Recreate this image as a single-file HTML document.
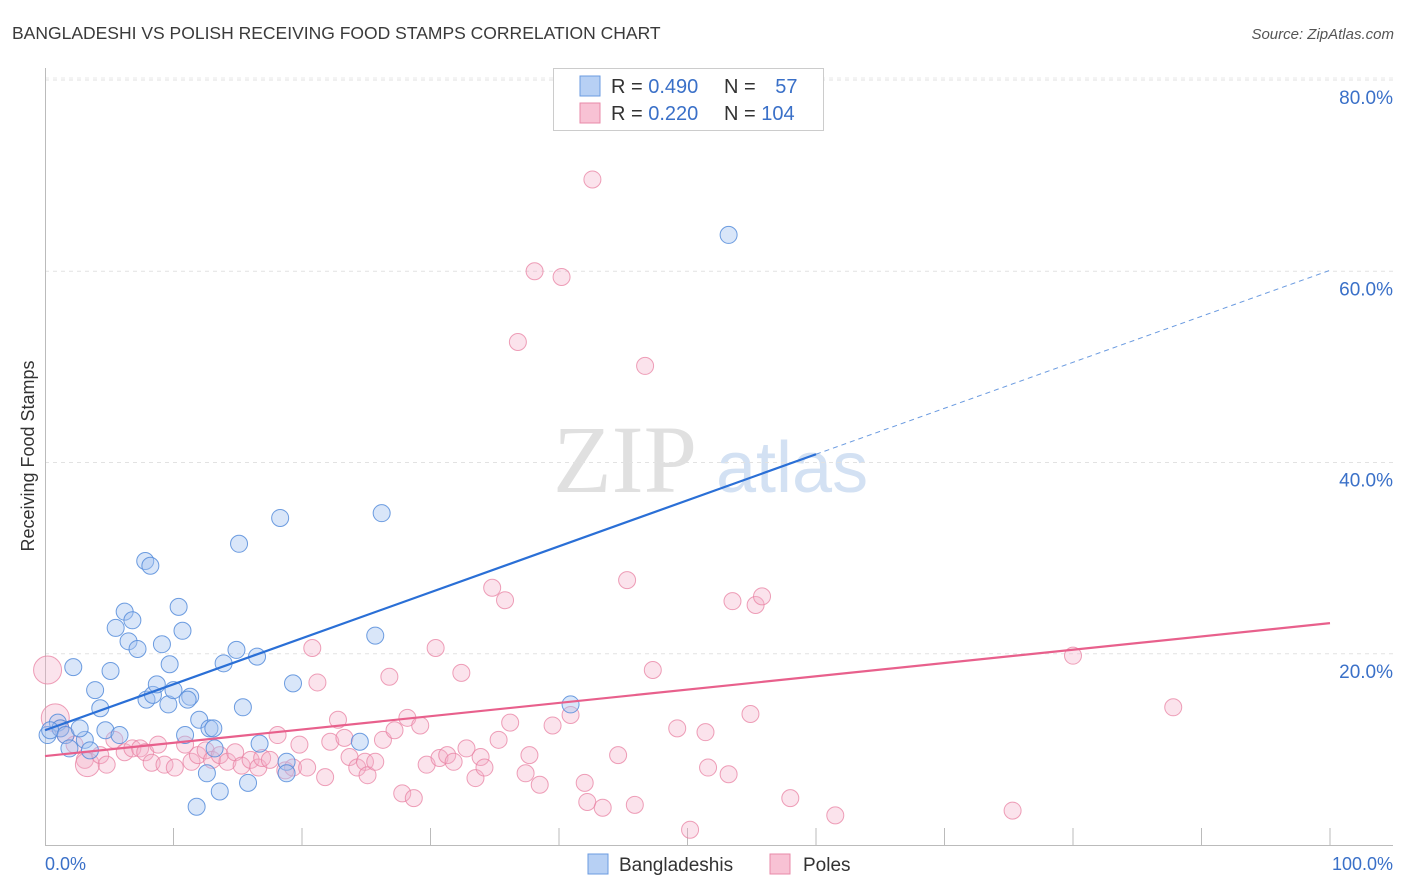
<!DOCTYPE html>
<html><head><meta charset="utf-8">
<style>
body{margin:0;background:#fff;font-family:"Liberation Sans",sans-serif;}
svg{display:block}
</style></head><body>
<svg id="chart" width="1406" height="892">
<text x="12" y="39" font-size="17.5" fill="#3a3a3a">BANGLADESHI VS POLISH RECEIVING FOOD STAMPS CORRELATION CHART</text>
<text x="1394" y="39" font-size="15" fill="#555" font-style="italic" text-anchor="end">Source: ZipAtlas.com</text>
<text transform="translate(34,456) rotate(-90)" font-size="18" fill="#333" text-anchor="middle">Receiving Food Stamps</text>
<g>
<text x="553" y="492" font-family="Liberation Serif,serif" font-size="96" fill="#e0e0e0">ZIP</text>
<text x="716" y="492" font-size="72" fill="#d3e1f3">atlas</text>
</g>
<g id="grid"></g>
<g id="axes"></g>
<g id="points"></g>
<g id="lines"></g>
<g>
<rect x="553.5" y="68.5" width="270" height="62" fill="#fff" stroke="#ccc"/>
<rect x="580" y="76" width="20" height="20" fill="#b7d0f4" stroke="#6b9be0"/>
<rect x="580" y="103" width="20" height="20" fill="#f8c2d4" stroke="#e88aa8"/>
<text x="611" y="93" font-size="20" fill="#333">R = <tspan fill="#3a70c8">0.490</tspan></text>
<text x="724" y="93" font-size="20" fill="#333">N = <tspan fill="#3a70c8" dx="14">57</tspan></text>
<text x="611" y="120" font-size="20" fill="#333">R = <tspan fill="#3a70c8">0.220</tspan></text>
<text x="724" y="120" font-size="20" fill="#333">N = <tspan fill="#3a70c8">104</tspan></text>
</g>
<g>
<rect x="588" y="854" width="20" height="20" fill="#b7d0f4" stroke="#6b9be0"/>
<text x="619" y="871" font-size="19" fill="#333">Bangladeshis</text>
<rect x="770" y="854" width="20" height="20" fill="#f8c2d4" stroke="#e88aa8"/>
<text x="803" y="871" font-size="19" fill="#333">Poles</text>
</g>
</svg>
<script>
const yTicks=[20,40,60,80];
const yTickLabels=["20.0%","40.0%","60.0%","80.0%"];
const xEndLabels=["0.0%","100.0%"];
const blueX=[2.2,3.9,4.3,5.1,5.5,6.2,6.5,6.8,7.2,7.8,8.2,7.9,8.4,8.7,9.1,9.7,9.6,10.0,10.4,10.7,11.3,10.9,12.0,12.8,12.6,11.8,13.6,13.2,13.9,14.9,15.1,15.4,15.8,16.5,16.7,18.3,18.8,18.8,19.3,25.7,26.2,24.5,40.9,53.2,0.2,1.0,1.2,0.4,1.6,1.9,3.1,2.7,3.5,4.7,5.8,13.1,11.1];
const blueY=[18.6,16.2,14.3,18.2,22.7,24.4,21.3,23.5,20.5,29.7,29.2,15.2,15.7,16.8,21.0,18.9,14.7,16.2,24.9,22.4,15.5,11.5,13.1,12.2,7.5,4.0,5.6,10.1,19.0,20.4,31.5,14.4,6.5,19.7,10.6,34.2,8.7,7.5,16.9,21.9,34.7,10.8,14.7,63.8,11.5,12.8,12.2,12.0,11.5,10.1,11.0,12.2,9.9,12.0,11.5,12.2,15.2];
const pinkX=[0.2,0.8,1.2,1.6,2.3,3.1,3.3,4.3,4.8,5.4,6.2,6.8,7.4,7.8,8.3,8.8,9.3,10.1,10.9,11.4,11.9,12.5,13.0,13.6,14.2,14.8,15.3,16.0,16.6,16.9,17.5,18.1,18.7,19.3,19.8,20.4,20.8,21.2,21.8,22.2,22.8,23.3,23.7,24.3,24.9,25.1,25.7,26.3,26.8,27.2,27.8,28.2,28.7,29.2,29.7,30.4,30.7,31.3,31.8,32.4,32.8,33.5,33.9,34.2,34.8,35.3,35.8,36.2,36.8,37.4,37.7,38.1,38.5,39.5,40.2,40.9,42.0,42.2,42.6,43.4,44.6,45.3,45.9,46.7,47.3,49.2,50.2,51.4,51.6,53.2,53.5,55.3,55.8,54.9,58.0,61.5,75.3,80.0,87.8];
const pinkY=[18.3,13.3,12.2,11.5,10.5,8.9,8.4,9.4,8.4,11.0,9.7,10.1,10.1,9.7,8.6,10.5,8.4,8.1,10.5,8.7,9.4,9.9,8.9,9.4,8.7,9.7,8.3,8.9,8.1,9.1,8.9,11.5,7.8,8.1,10.5,8.1,20.6,17.0,7.1,10.8,13.1,11.2,9.2,8.1,8.7,7.3,8.7,11.0,17.6,12.0,5.4,13.3,4.9,12.5,8.4,20.6,9.1,9.4,8.7,18.0,10.1,7.0,9.2,8.1,26.9,11.0,25.6,12.8,52.6,7.5,9.4,60.0,6.3,12.5,59.4,13.6,6.5,4.5,69.6,3.9,9.4,27.7,4.2,50.1,18.3,12.2,1.6,11.8,8.1,7.4,25.5,25.1,26.0,13.7,4.9,3.1,3.6,19.8,14.4];
const pinkBig=[0,1,6];
const blueTrend=[12.0,60.1];
const pinkTrend=[9.3,23.2];
const NS="http://www.w3.org/2000/svg";
const X=v=>45+v*12.85, Y=v=>845-v*9.5625;
function mk(t,a,p){const e=document.createElementNS(NS,t);for(const k in a)e.setAttribute(k,a[k]);p.appendChild(e);return e;}
const grid=document.getElementById('grid'),axes=document.getElementById('axes'),pts=document.getElementById('points'),lines=document.getElementById('lines');
yTicks.forEach((t,i)=>{
 const g=mk('line',{x1:45,x2:1393,y1:Y(t),y2:Y(t),stroke:'#e2e2e2','stroke-dasharray':'4,4'},grid);
 
 
 const l=mk('text',{x:1393,y:Y(t)+24,'text-anchor':'end','font-size':19,fill:'#3a70c8'},axes);
 l.textContent=yTickLabels[i];
 
 
});
const tg=mk('line',{x1:45,x2:1393,y1:78,y2:78,stroke:'#e8e8e8','stroke-dasharray':'4,4'},grid);


const ax=mk('line',{x1:45,x2:1393,y1:845.5,y2:845.5,stroke:'#bbb'},axes);


const ay=mk('line',{x1:45.5,x2:45.5,y1:68,y2:845,stroke:'#bbb'},axes);


for(let k=1;k<=10;k++){const t=mk('line',{x1:X(k*10),x2:X(k*10),y1:828,y2:845,stroke:'#bbb'},axes);
 
 }
[[0,'start',45],[100,'end',1393]].forEach((d,i)=>{const t=mk('text',{x:d[2],y:870,'text-anchor':d[1],'font-size':18,fill:'#3a70c8'},axes);t.textContent=xEndLabels[i];
 
 });
pinkX.forEach((x,i)=>{const r=pinkBig.includes(i)?(i===6?12:14):8.5;
 const c=mk('circle',{cx:X(x),cy:Y(pinkY[i]),r:r,fill:'rgba(244,175,200,0.35)',stroke:'rgba(232,128,162,0.75)','stroke-width':1},pts);
 
 });
blueX.forEach((x,i)=>{const c=mk('circle',{cx:X(x),cy:Y(blueY[i]),r:8.5,fill:'rgba(164,196,240,0.42)',stroke:'rgba(85,140,218,0.85)','stroke-width':1},pts);
 
 });
const by=x=>blueTrend[0]+(blueTrend[1]-blueTrend[0])*x/100;
const b1=mk('line',{x1:X(0),y1:Y(by(0)),x2:X(60),y2:Y(by(60)),stroke:'#2a6fd6','stroke-width':2.2},lines);


const b2=mk('line',{x1:X(60),y1:Y(by(60)),x2:X(100),y2:Y(by(100)),stroke:'#6b9be0','stroke-width':1,'stroke-dasharray':'5,4'},lines);


const p1=mk('line',{x1:X(0),y1:Y(pinkTrend[0]),x2:X(100),y2:Y(pinkTrend[1]),stroke:'#e8608c','stroke-width':2.2},lines);


</script>
</body></html>
